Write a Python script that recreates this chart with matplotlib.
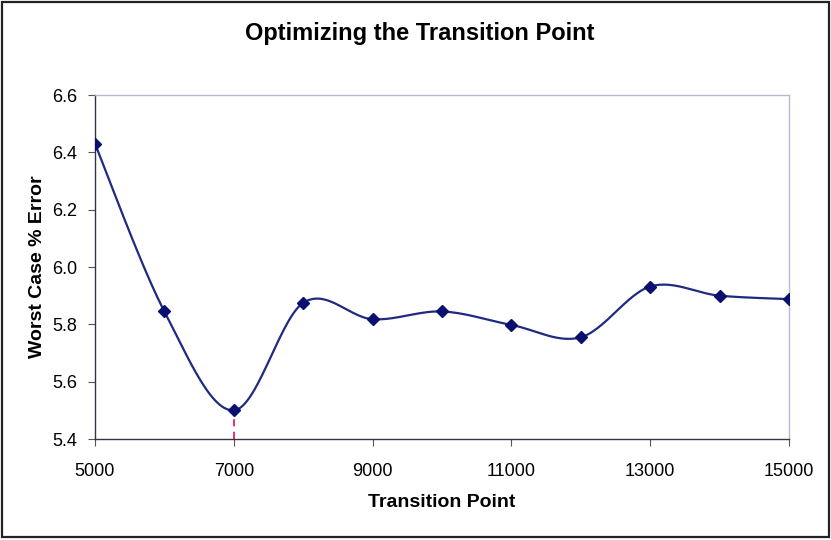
import numpy as np
import matplotlib
matplotlib.use('Agg')
import matplotlib.pyplot as plt
from matplotlib.patches import Rectangle

plt.rcParams['font.family'] = ['Liberation Sans', 'DejaVu Sans']

# worst case error vs. transition point
tpoint = [5000, 6000, 7000, 8000, 9000, 10000, 11000, 12000, 13000, 14000, 15000]
werr = [6.43, 5.845, 5.50, 5.875, 5.818, 5.845, 5.798, 5.755, 5.932, 5.90, 5.888]
best_pt = 7000
best_err = 5.50


def smooth(xs, ys, n=30):
  # excel style smoothed line: cubic bezier through the points, catmull-rom tangents
  p = np.column_stack([xs, ys]).astype(float)
  ext = np.vstack([p[0], p, p[-1]])
  out = []
  t = np.linspace(0, 1, n)[:, None]
  for i in range(len(p) - 1):
    p0, p3 = ext[i+1], ext[i+2]
    c1 = p0 + (ext[i+2] - ext[i]) / 6.0
    c2 = p3 - (ext[i+3] - ext[i+1]) / 6.0
    seg = (1-t)**3*p0 + 3*(1-t)**2*t*c1 + 3*(1-t)*t**2*c2 + t**3*p3
    out.append(seg if i == 0 else seg[1:])
  out = np.vstack(out)
  return out[:, 0], out[:, 1]


fig = plt.figure(figsize=(8.31, 5.40), dpi=100)
ax = fig.add_axes([0.1143, 0.187, 0.8352, 0.637])

sx, sy = smooth(tpoint, werr)
ax.plot(sx, sy, '-', color='#1f2a80', linewidth=1.6, zorder=3)
ax.plot(tpoint, werr, 'D', color='#0a1070', markersize=6.5, zorder=4)
ax.plot([best_pt, best_pt], [5.4, best_err], '--', color='#e0206a', linewidth=1.3, zorder=2, dashes=(4, 3))

ax.set_xlim(5000, 15000)
ax.set_ylim(5.4, 6.6)
ax.set_xticks(range(5000, 15001, 2000))
ax.set_yticks(np.arange(5.4, 6.61, 0.2))
ax.set_yticklabels(['%.1f' % v for v in np.arange(5.4, 6.61, 0.2)])
ax.tick_params(axis='both', direction='out', length=5, width=0.8, color='#555555', labelsize=13, pad=8)
ax.tick_params(axis='x', pad=12)

for s in ['left', 'bottom']:
  ax.spines[s].set_color('#333344')
  ax.spines[s].set_linewidth(1.0)
for s in ['top', 'right']:
  ax.spines[s].set_color('#b8b8d0')
  ax.spines[s].set_linewidth(1.0)

ax.set_xlabel('Transition Point', fontsize=14, fontweight='bold', labelpad=10)
ax.set_ylabel('Worst Case % Error', fontsize=14, fontweight='bold', labelpad=4)
fig.text(0.505, 0.938, 'Optimizing the Transition Point', fontsize=17, fontweight='bold', ha='center', va='center')

# chart outline
fig.patches.append(Rectangle((0.003, 0.006), 0.994, 0.99, transform=fig.transFigure,
                             fill=False, edgecolor='#222222', linewidth=1.6))

fig.savefig('out.png', dpi=100)
